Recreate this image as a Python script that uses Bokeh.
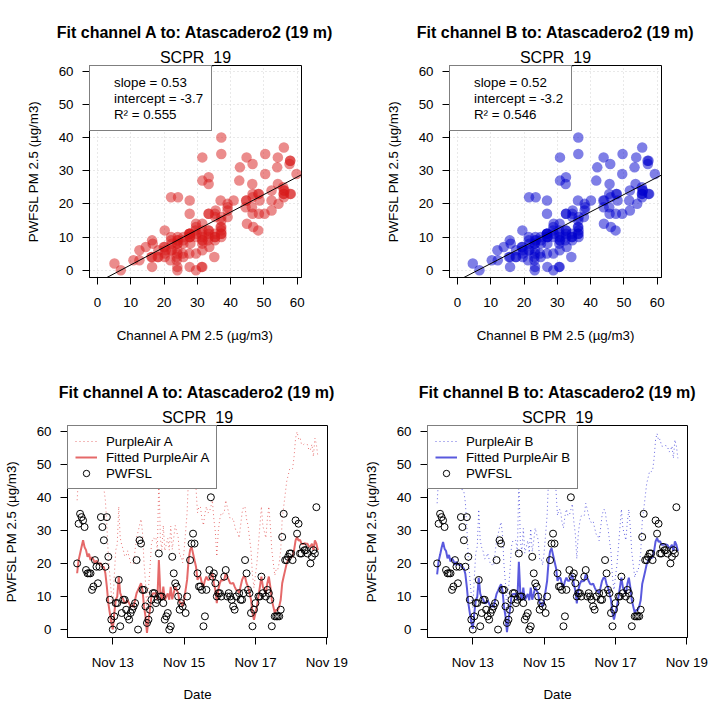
import numpy as np
import pandas as pd
from bokeh.plotting import figure
from bokeh.models import (Range1d, FixedTicker, Slope, Legend, LegendItem, Title,
                          DatetimeTickFormatter)
from bokeh.layouts import row, column
from bokeh.embed import file_html
from bokeh.resources import INLINE

FONT = "Liberation Sans"

# ---------------- data ----------------
site_name = "Atascadero2"
site_dist = "19 m"
sensor = "SCPR_19"
start_time = "2018-11-12 00:00"

pwfsl = [20, 32, 35, 34, 33, 31, 18, 17, 17, 17,
         12, 13, 21, 19, 14, 19, 34, 31, 27, 19,
         34, 22, 9, 3, 0, 4, 8, 8, 15, 1,
         5, 9, 9, 6, 4, 3, 5, 6, 7, 8,
         21, 0, 27, 26, 12, 12, 7, 2, 3, 6,
         9, 11, 11, 8, 9, 23, 10, 10, 8, 3,
         4, 5, 0, 1, 22, 17, 14, 13, 10, 6,
         8, 7, None, 5, 10, None, 21, 26, 29, 26,
         None, 17, 13, 13, 12, 1, 4, 12, None, 18,
         40, 16, 17, 14, 10, 11, 11, 10, None, 16,
         18, 10, 11, 10, 9, 7, 6, 10, None, 11,
         9, 9, 11, 21, 17, 12, 11, 5, 1, 6,
         8, None, 10, 10, 16, 11, None, 10, 12, 11,
         9, 1, None, 4, 4, 4, 4, 6, 28, 35,
         21, 21, 22, 23, 23, 21, None, 33, 29, 32,
         23, 23, 25, 24, 24, 23, None, 20, 22, 24,
         23, 37, None]

pa_a = [39.1, 46.6, 50.4, 54.2, 57.9, 54.0, 52.3, 48.5, 50.2, 46.6,
        48.3, 46.8, 44.7, 46.4, 44.9, 44.5, 44.8, 42.8, 42.6, 39.1,
        31.5, 22.1, 16.4, 10.8, 7.0, 16.2, 24.0, 25.8, 37.2, 27.7,
        25.6, 24.2, 22.1, 22.4, 23.8, 21.9, 20.2, 20.5, 19.9, 24.0,
        27.7, 29.6, 31.5, 33.4, 29.4, 20.2, 14.5, 5.1, 12.6, 18.3,
        25.8, 27.7, 27.5, 27.9, 24.0, 46.6, 27.7, 24.1, 31.5, 23.8,
        25.8, 27.6, 24.0, 31.3, 24.2, 27.7, 31.5, 29.6, 27.8, 22.1,
        22.3, 20.2, 24.0, 29.6, 35.3, 46.6, 52.3, 54.2, 50.4, 46.5,
        42.8, 35.3, 37.2, 37.0, 33.4, 31.5, 35.1, 37.2, 35.3, 35.5,
        37.2, 39.1, 33.4, 29.6, 22.1, 29.8, 33.4, 35.3, 35.0, 35.4,
        39.1, 37.2, 35.3, 33.4, 33.2, 33.6, 31.5, 29.6, 29.4, 27.7,
        31.5, 35.3, 37.2, 37.0, 33.4, 31.5, 27.7, 24.0, 16.4, 12.6,
        16.6, 20.2, 25.8, 31.5, 37.2, 31.3, 29.6, 27.7, 33.4, 37.2,
        31.5, 24.0, 20.2, 16.4, 18.3, 18.1, 20.2, 24.0, 33.4, 37.2,
        40.9, 44.7, 46.6, 48.5, 48.3, 48.7, 52.3, 57.9, 59.8, 57.7,
        58.1, 56.0, 55.8, 56.2, 56.0, 55.9, 54.2, 54.4, 56.0, 52.3,
        57.9, 56.0, 52.3]

pa_b = [38.2, 45.9, 49.6, 53.7, 57.1, 53.2, 51.8, 47.6, 49.5, 45.7,
        47.5, 46.1, 43.8, 45.6, 44.0, 43.9, 43.9, 42.0, 41.7, 38.4,
        30.8, 21.5, 15.7, 10.3, 6.6, 15.5, 23.2, 25.1, 36.3, 27.0,
        24.8, 23.6, 21.4, 21.6, 23.1, 21.2, 19.6, 19.7, 19.3, 23.2,
        26.9, 28.8, 30.8, 32.5, 28.7, 19.5, 13.9, 4.6, 12.1, 17.6,
        25.1, 26.9, 26.8, 27.0, 23.3, 45.6, 26.9, 23.4, 30.6, 23.1,
        25.0, 26.9, 23.2, 30.5, 23.5, 26.9, 30.7, 28.8, 27.1, 21.4,
        21.6, 19.5, 23.3, 28.8, 34.4, 45.8, 51.6, 53.5, 49.5, 45.7,
        42.0, 34.5, 36.3, 36.2, 32.6, 30.7, 34.2, 36.4, 34.5, 34.6,
        36.3, 38.0, 32.6, 28.9, 21.4, 29.0, 32.6, 34.4, 34.2, 34.5,
        38.2, 36.4, 34.4, 32.6, 32.4, 32.8, 30.7, 28.8, 28.7, 26.9,
        30.7, 34.5, 36.3, 36.2, 32.6, 30.6, 26.9, 23.3, 15.8, 12.0,
        16.0, 19.5, 25.0, 30.7, 36.4, 30.6, 28.9, 27.0, 32.6, 36.3,
        30.8, 23.3, 19.5, 15.8, 17.6, 17.5, 19.6, 23.3, 32.6, 36.3,
        40.1, 44.1, 46.0, 47.9, 47.7, 48.1, 51.8, 57.4, 59.3, 57.2,
        57.6, 55.5, 55.4, 55.7, 55.6, 55.4, 53.7, 54.0, 55.5, 51.8,
        57.4, 55.5, 51.8]

fit_a = {"slope": 0.53, "intercept": -3.7, "r2": 0.555}
fit_b = {"slope": 0.52, "intercept": -3.2, "r2": 0.546}

pm_ticks = [0, 10, 20, 30, 40, 50, 60]
date_ticks = ["2018-11-13", "2018-11-15", "2018-11-17", "2018-11-19"]

# ---------------- styling helpers ----------------
RED = "#D71919"
BLUE = "#0000CD"
FS = "13.3px"

pw = np.array(pwfsl, dtype=float)
times = pd.date_range(start_time, periods=len(pwfsl), freq="h")


def base_fig(w, h, left, right, top, bottom, xr, yr, xtype="linear"):
    p = figure(width=w, height=h, min_border_left=left, min_border_right=right,
               min_border_top=top, min_border_bottom=bottom, x_range=xr, y_range=yr,
               x_axis_type=xtype, output_backend="svg", toolbar_location=None,
               title=None, background_fill_color="white", border_fill_color="white")
    p.outline_line_color = "black"
    p.outline_line_alpha = 1
    p.outline_line_width = 1
    for ax in (p.xaxis[0], p.yaxis[0]):
        ax.major_tick_in = 0
        ax.major_tick_out = 7
        ax.minor_tick_line_color = None
        ax.major_tick_line_color = "black"
        ax.axis_line_color = "black"
        ax.major_label_text_font = FONT
        ax.major_label_text_font_size = FS
        ax.major_label_text_color = "black"
        ax.axis_label_text_font = FONT
        ax.axis_label_text_font_size = FS
        ax.axis_label_text_font_style = "normal"
        ax.axis_label_text_color = "black"
    p.xaxis[0].major_label_standoff = 10
    p.yaxis[0].major_label_standoff = 9
    return p


def add_titles(p, channel):
    p.add_layout(Title(text=sensor, align="center", text_font=FONT, text_font_size="16px",
                       text_font_style="normal", text_color="black", standoff=0), "above")
    p.add_layout(Title(text=f"Fit channel {channel} to: {site_name} ({site_dist})", align="center",
                       text_font=FONT, text_font_size="16px", text_font_style="bold",
                       text_color="black", standoff=12), "above")


def scatter_panel(channel, pa, fit, color):
    p = base_fig(360, 360, 89, 59, 65, 83, Range1d(-2.4, 61.3), Range1d(-2.2, 61.7))
    add_titles(p, channel)
    p.xaxis[0].ticker = FixedTicker(ticks=pm_ticks)
    p.yaxis[0].ticker = FixedTicker(ticks=pm_ticks)
    p.xaxis[0].axis_label = f"Channel {channel} PM 2.5 (µg/m3)"
    p.yaxis[0].axis_label = "PWFSL PM 2.5 (µg/m3)"
    p.xaxis[0].major_label_standoff = 13
    p.xaxis[0].axis_label_standoff = 18
    p.yaxis[0].axis_label_standoff = 15
    for g in (p.xgrid[0], p.ygrid[0]):
        g.grid_line_color = "#D3D3D3"
        g.grid_line_dash = "1 3"
        g.grid_line_width = 1
    p.scatter(np.array(pa), pw, size=10.5, fill_color=color, fill_alpha=0.5,
              line_color=None)
    p.add_layout(Slope(gradient=fit["slope"], y_intercept=fit["intercept"],
                       line_color="black", line_width=1))
    dummies = [p.scatter([], [], fill_alpha=0, line_alpha=0) for _ in range(3)]
    texts = [f"slope = {fit['slope']:.2f}", f"intercept = {fit['intercept']:.1f}",
             f"R\u00b2 = {fit['r2']:.3f}"]
    leg = Legend(items=[LegendItem(label=t, renderers=[r]) for t, r in zip(texts, dummies)],
                 location="top_left", margin=0, padding=8, spacing=0,
                 label_height=16, glyph_height=16, glyph_width=10, label_standoff=6,
                 label_text_font=FONT, label_text_font_size=FS, label_text_color="black",
                 border_line_color="black", border_line_width=1,
                 background_fill_color="white", background_fill_alpha=1)
    p.add_layout(leg)
    return p


def ts_panel(channel, pa, fit, color):
    span = times[-1] - times[0]
    xr = Range1d(times[0] - 0.04 * span, times[-1] + 0.04 * span)
    p = base_fig(360, 359, 66, 33, 65, 82, xr, Range1d(-2.4, 61.7), xtype="datetime")
    add_titles(p, channel)
    p.xgrid.grid_line_color = None
    p.ygrid.grid_line_color = None
    p.yaxis[0].ticker = FixedTicker(ticks=pm_ticks)
    tick_ms = [pd.Timestamp(d).value // 10**6 for d in date_ticks]
    p.xaxis[0].ticker = FixedTicker(ticks=tick_ms)
    fmt = "%b %d"
    p.xaxis[0].formatter = DatetimeTickFormatter(
        milliseconds=fmt, seconds=fmt, minsec=fmt, minutes=fmt, hourmin=fmt,
        hours=fmt, days=fmt, months=fmt, years=fmt)
    p.xaxis[0].axis_label = "Date"
    p.yaxis[0].axis_label = "PWFSL PM 2.5 (µg/m3)"
    p.xaxis[0].axis_label_standoff = 14
    p.yaxis[0].axis_label_standoff = 15

    pa_arr = np.array(pa)
    fitted = fit["slope"] * pa_arr + fit["intercept"]
    r_raw = p.line(times, pa_arr, line_color=color, line_alpha=0.6, line_width=1,
                   line_dash="1 3")
    r_fit = p.line(times, fitted, line_color=color, line_alpha=0.65, line_width=2)
    r_pw = p.scatter(times, pw, size=7, fill_color=None, line_color="black",
                     line_width=1)
    leg = Legend(items=[LegendItem(label=f"PurpleAir {channel}", renderers=[r_raw]),
                        LegendItem(label=f"Fitted PurpleAir {channel}", renderers=[r_fit]),
                        LegendItem(label="PWFSL", renderers=[r_pw])],
                 location="top_left", margin=0, padding=7, spacing=0,
                 label_height=16, glyph_height=16, glyph_width=22, label_standoff=9,
                 label_text_font=FONT, label_text_font_size=FS, label_text_color="black",
                 border_line_color="black", border_line_width=1,
                 background_fill_color="white", background_fill_alpha=1)
    p.add_layout(leg)
    return p


p1 = scatter_panel("A", pa_a, fit_a, RED)
p2 = scatter_panel("B", pa_b, fit_b, BLUE)
p3 = ts_panel("A", pa_a, fit_a, RED)
p4 = ts_panel("B", pa_b, fit_b, BLUE)

layout = column(row(p1, p2), row(p3, p4))
open("out.html", "w").write(file_html(layout, INLINE))
